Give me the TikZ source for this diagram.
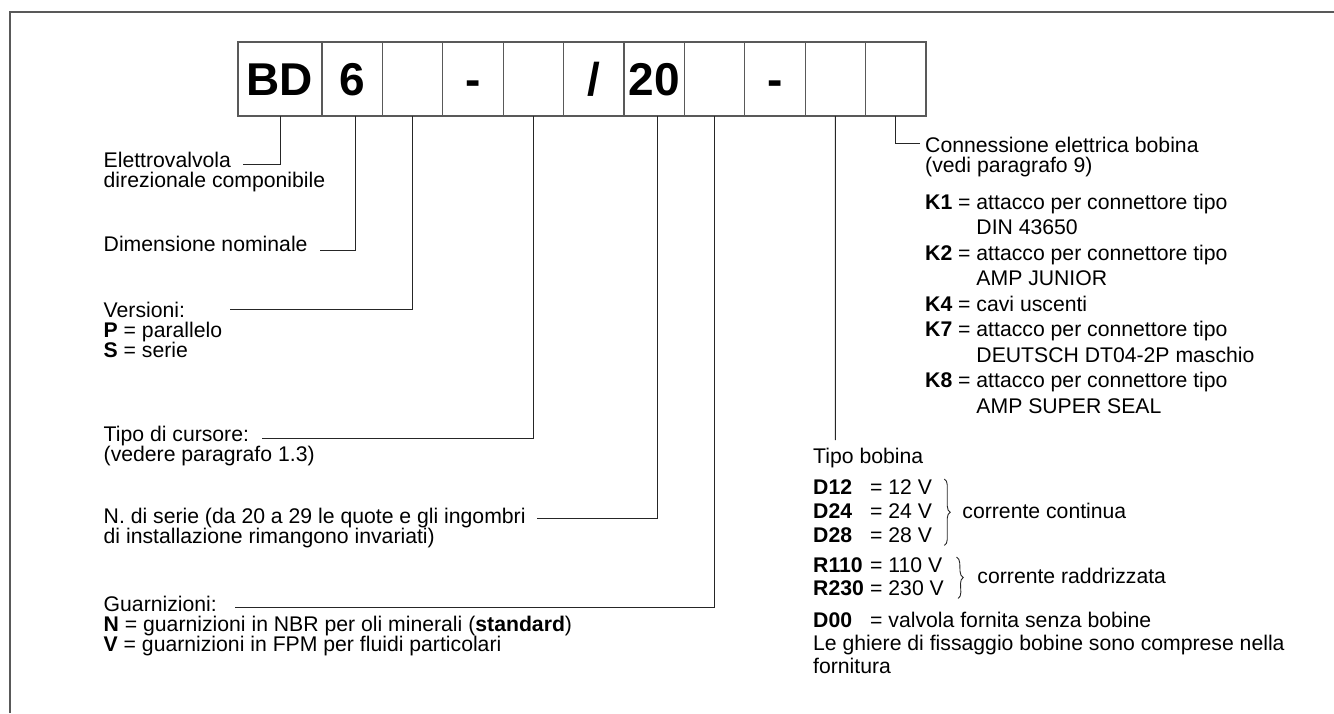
\documentclass[tikz,border=0pt]{standalone}
\usepackage{fontspec}
\setmainfont{Liberation Sans}
\usetikzlibrary{calc,decorations.pathreplacing}

\newcommand{\coilrow}[2]{\makebox[57pt][l]{\textbf{#1}}#2}

\begin{document}
\begin{tikzpicture}[x=1pt,y=-1pt,
  cell/.style={draw=black!65,line width=1.3pt,minimum width=60.4pt,minimum height=74pt,
    inner sep=0pt,outer sep=0pt,text height=33pt,text depth=0pt,
    font=\fontsize{46}{46}\selectfont\bfseries},
  lbl/.style={anchor=base west,inner sep=0pt,align=left,font=\fontsize{21.2}{20}\selectfont},
  ldr/.style={draw=black!85,line width=1pt},
  brc/.style={draw=black!85,line width=0.9pt,decorate,decoration={brace,amplitude=6pt}}]
  \useasboundingbox (0,0) rectangle (1334,713);
  \draw[black!65,line width=1.5pt] (10,713) -- (10,12) -- (1334,12);
  % code boxes
  \node[cell,minimum width=84pt] (c1) at (280,79) {BD};
  \foreach \t [count=\i from 2] in {6,{},-,{},{/},20,{},-,{},{}}
    \node[cell] (c\i) at (231.4+60.4*\i,79) {\t};
  % left descriptions (placed at the baseline of their last line)
  \node[lbl] (elet) at (103.5,187) {Elettrovalvola\\direzionale componibile};
  \node[lbl] (dim) at (103.5,251) {Dimensione nominale};
  \node[lbl] (vers) at (103.5,357) {Versioni:\\\textbf{P} = parallelo\\\textbf{S} = serie};
  \node[lbl] (curs) at (103.5,461) {Tipo di cursore:\\(vedere paragrafo 1.3)};
  \node[lbl] (serie) at (103.5,543) {N. di serie (da 20 a 29 le quote e gli ingombri\\di installazione rimangono invariati)};
  \node[lbl] (guarn) at (103.5,651) {Guarnizioni:\\\textbf{N} = guarnizioni in NBR per oli minerali (\textbf{standard})\\\textbf{V} = guarnizioni in FPM per fluidi particolari};
  % right descriptions
  \node[lbl] (conn) at (925,172) {Connessione elettrica bobina\\(vedi paragrafo 9)};
  \node[lbl,font=\fontsize{21.2}{25.5}\selectfont] (klist) at (925,413)
    {\textbf{K1} = attacco per connettore tipo\\
     \phantom{\textbf{K1} = }DIN 43650\\
     \textbf{K2} = attacco per connettore tipo\\
     \phantom{\textbf{K2} = }AMP JUNIOR\\
     \textbf{K4} = cavi uscenti\\
     \textbf{K7} = attacco per connettore tipo\\
     \phantom{\textbf{K7} = }DEUTSCH DT04-2P maschio\\
     \textbf{K8} = attacco per connettore tipo\\
     \phantom{\textbf{K8} = }AMP SUPER SEAL};
  \node[lbl] (tipob) at (813,463) {Tipo bobina};
  \node[lbl] (d12) at (813,494) {\coilrow{D12}{= 12 V}};
  \node[lbl] (d24) at (813,518) {\coilrow{D24}{= 24 V}};
  \node[lbl] (d28) at (813,542) {\coilrow{D28}{= 28 V}};
  \node[lbl] (r110) at (813,572) {\coilrow{R110}{= 110 V}};
  \node[lbl] (r230) at (813,595) {\coilrow{R230}{= 230 V}};
  \node[lbl] (d00) at (813,627) {\coilrow{D00}{= valvola fornita senza bobine}};
  \node[lbl,font=\fontsize{21.2}{23}\selectfont] (ghiere) at (813,673)
    {Le ghiere di fissaggio bobine sono comprese nella\\fornitura};
  \draw[brc] ([xshift=12pt]d12.north east) -- ([xshift=12pt,yshift=-3pt]d28.south east);
  \node[lbl,anchor=west] (cont) at ([xshift=30pt]d24.east) {corrente continua};
  \draw[brc] ([xshift=14pt]r110.north east) -- ([xshift=14pt,yshift=-3pt]r230.south east);
  \node[lbl,anchor=west] (radd) at ($([xshift=34pt]r110.east)!0.5!([xshift=34pt]r230.east)$) {corrente raddrizzata};
  % leaders
  \coordinate (eletEnd) at (243,164);
  \coordinate (dimEnd) at (320,250);
  \coordinate (versEnd) at (230,309);
  \coordinate (cursEnd) at (262,438);
  \coordinate (guarnEnd) at (235,607);
  \coordinate (connEnd) at (920,143);
  \coordinate (serieEnd) at (537,518);
  \coordinate (bobEnd) at (835.4,440);
  \foreach \c/\e in {c1/eletEnd,c3/versEnd,c5/cursEnd,c8/guarnEnd,c11/connEnd}
    \draw[ldr] (\c.south) |- (\e);
  \draw[ldr] ([xshift=3pt]c2.south) |- (dimEnd);
  \draw[ldr] ([xshift=3pt]c7.south) |- (serieEnd);
  \draw[ldr] (c10.south) -- (bobEnd);
\end{tikzpicture}
\end{document}
